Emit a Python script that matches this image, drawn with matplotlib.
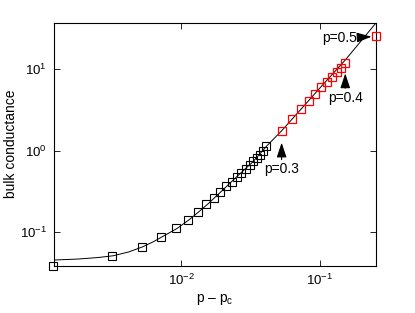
import matplotlib
matplotlib.use("Agg")
import matplotlib.pyplot as plt

plt.rcParams["font.family"] = ["Liberation Sans", "DejaVu Sans"]
plt.rcParams["mathtext.fontset"] = "custom"
plt.rcParams["mathtext.rm"] = "Liberation Sans"
plt.rcParams["mathtext.it"] = "Liberation Sans:italic"

# simulated points, p below 0.29 (black)
dp_low = [0.0012, 0.0032, 0.0052, 0.0072, 0.0092, 0.0112, 0.0132, 0.0152,
          0.0172, 0.0192, 0.0212, 0.0232, 0.0252, 0.0272, 0.0292, 0.0312,
          0.0332, 0.0352, 0.0372, 0.0392, 0.0412]
g_low = [0.039, 0.0516, 0.0665, 0.0883, 0.112, 0.1415, 0.1775, 0.220,
         0.2656, 0.309, 0.365, 0.42, 0.48, 0.54, 0.60, 0.67,
         0.74, 0.82, 0.90, 1.0, 1.13]

# simulated points, p = 0.30 ... 0.40 and 0.5 (red)
dp_high = [0.0532, 0.0632, 0.0732, 0.0832, 0.0932, 0.1032, 0.1132, 0.1232,
           0.1332, 0.1432, 0.1532, 0.2532]
g_high = [1.76, 2.43, 3.22, 4.11, 4.96, 6.0, 7.03, 8.09, 9.31, 10.4, 11.8, 25.4]

# fitted curve
fit_x = [0.0012, 0.0018, 0.0025, 0.00325, 0.0042, 0.0053, 0.0063, 0.0073,
         0.0094, 0.0114, 0.0134, 0.0155, 0.0192, 0.0252, 0.0332, 0.0412,
         0.0532, 0.0832, 0.1032, 0.1532, 0.2535]
fit_y = [0.0457, 0.0470, 0.0490, 0.0516, 0.0575, 0.0665, 0.0765, 0.088,
         0.112, 0.142, 0.178, 0.220, 0.309, 0.48, 0.74, 1.13,
         1.76, 4.11, 6.2, 13.0, 36.5]

fig = plt.figure(figsize=(4.15, 3.13), dpi=100)
ax = fig.add_axes([0.130, 0.151, 0.775, 0.7765])

ax.plot(fit_x, fit_y, color="black", lw=0.7)
ax.plot(dp_low, g_low, ls="none", marker="s", ms=5.5, mfc="none",
        mec="black", mew=0.8, clip_on=False)
ax.plot(dp_high, g_high, ls="none", marker="s", ms=5.5, mfc="none",
        mec="#ff0000", mew=0.9, clip_on=False, zorder=3)

ax.set_xscale("log")
ax.set_yscale("log")
ax.set_xlim(0.00121, 0.2535)
ax.set_ylim(0.0389, 37.3)
ax.minorticks_off()
ax.tick_params(direction="in", top=True, right=True, length=4, width=0.6,
               labelsize=9.5, pad=5)
for s in ax.spines.values():
    s.set_linewidth(0.8)

ax.set_xlabel("p \u2013 p$_\\mathregular{c}$", fontsize=10, labelpad=3)
ax.set_ylabel("bulk conductance", fontsize=10)
ax.yaxis.set_label_coords(-0.112, 0.5)

arrow = dict(arrowstyle="-|>,head_length=0.9,head_width=0.3",
             color="black", lw=0.8, shrinkA=0, shrinkB=0)
ax.annotate("p=0.3", xy=(dp_high[0], 1.26), xytext=(dp_high[0], 0.72),
            fontsize=10, ha="center", va="top", arrowprops=arrow)
ax.annotate("p=0.4", xy=(dp_high[10], 8.9), xytext=(dp_high[10], 5.4),
            fontsize=10, ha="center", va="top", arrowprops=arrow)
ax.annotate("p=0.5", xy=(0.237, 25.1), xytext=(0.187, 23.9),
            fontsize=10, ha="right", va="center", arrowprops=arrow)

fig.savefig("out.png", dpi=100)
